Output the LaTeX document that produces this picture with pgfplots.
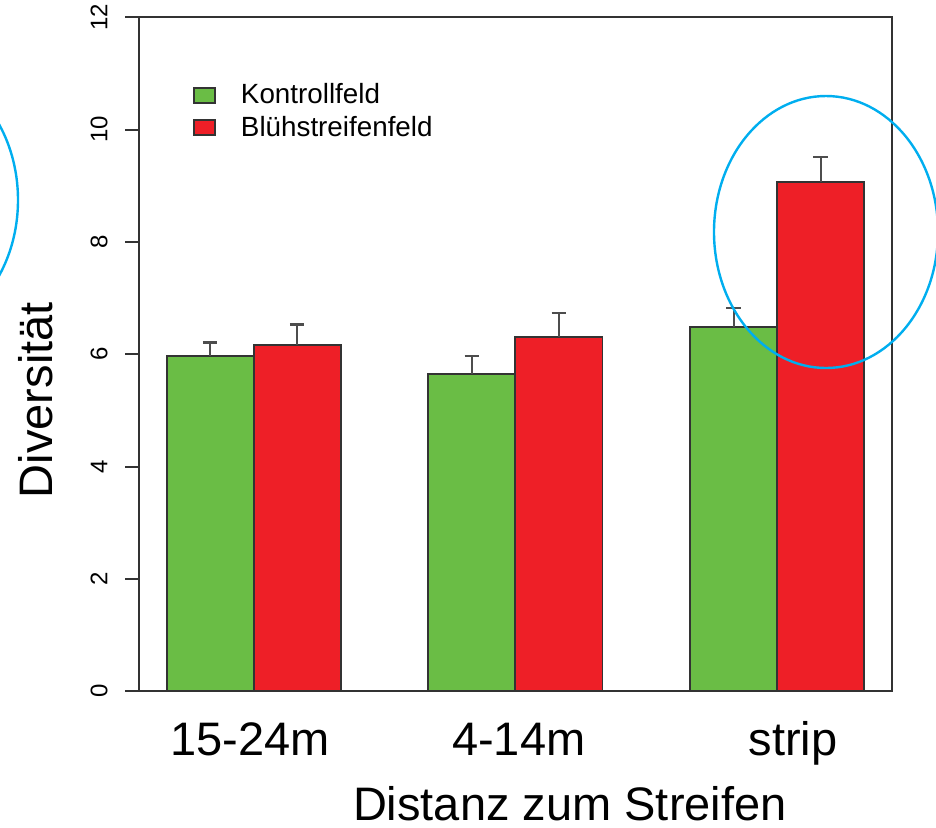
\documentclass[border=0pt]{standalone}
\usepackage{fontspec}
\setmainfont{Liberation Sans}
\usepackage{pgfplots}
\pgfplotsset{compat=1.18}
\definecolor{kgreen}{HTML}{6ABD45}
\definecolor{bred}{HTML}{EE1F27}
\definecolor{edge}{HTML}{333333}
\definecolor{errc}{HTML}{4D4D4D}
\definecolor{circ}{HTML}{00AEEF}
\begin{document}
\begin{tikzpicture}[x=1pt,y=1pt]
\begin{scope}
\clip (0,0) rectangle (468,-413.5);
\begin{axis}[
  at={(69.65pt,-345.65pt)}, anchor=south west,
  scale only axis, width=376.35pt, height=337pt,
  xmin=-0.437, xmax=2.439, ymin=0, ymax=12,
  ybar, bar width=0.3325,
  axis line style={draw=edge, line width=0.9pt},
  tick align=outside, major tick length=7pt,
  ytick={0,2,...,12}, ytick pos=left,
  ytick style={draw=edge, line width=0.9pt},
  yticklabel style={xshift=-9pt, rotate=90, anchor=base, font=\fontsize{12}{14}\selectfont},
  xtick={-0.014,1.013,2.061},
  xticklabels={15-24m,4-14m,strip},
  xtick style={draw=none},
  xticklabel style={anchor=base, yshift=-25pt, font=\fontsize{23.5}{28}\selectfont},
  /pgf/number format/assume math mode=true,
  xlabel={Distanz zum Streifen},
  ylabel={Diversität},
  every axis x label/.style={at={(rel axis cs:0.572,-0.191)}, anchor=base, font=\fontsize{23.5}{28}\selectfont},
  every axis y label/.style={at={(rel axis cs:-0.137,0.432)}, rotate=90, anchor=center, font=\fontsize{23.5}{28}\selectfont},
  legend style={at={(rel axis cs:0.0713,0.902)}, anchor=north west, draw=none, fill=none, inner sep=0pt,
    font=\fontsize{13.9}{16}\selectfont, row sep=4.5pt,
    nodes={inner sep=0pt},
    /tikz/every odd column/.append style={column sep=12.5pt}},
  legend cell align=left,
  legend image code/.code={\draw[#1, line width=0.8pt] (0pt,-3.7pt) rectangle (10.5pt,3.8pt);},
  error bars/y dir=plus, error bars/y explicit,
  error bars/error mark=-,
  error bars/error bar style={draw=errc, line width=1.1pt},
  error bars/error mark options={draw=errc, line width=1.1pt, mark size=3.6pt, rotate=90},
]
\addplot[fill=kgreen, draw=edge, line width=0.9pt, bar shift=-0.16625]
  coordinates {(0,5.97) +- (0,0.24) (1,5.65) +- (0,0.32) (2,6.48) +- (0,0.35)};
\addplot[fill=bred, draw=edge, line width=0.9pt, bar shift=0.16625]
  coordinates {(0,6.165) +- (0,0.365) (1,6.31) +- (0,0.42) (2,9.07) +- (0,0.45)};
\legend{Kontrollfeld, Blühstreifenfeld}
\end{axis}
\draw[circ, line width=1.2pt] (413,-116) ellipse [x radius=56, y radius=68];
\draw[circ, line width=1.2pt] (-47,-100) ellipse [x radius=56, y radius=68];
\end{scope}
\pgfresetboundingbox
\path[use as bounding box] (0,0) rectangle (468,-413.5);
\end{tikzpicture}
\end{document}
